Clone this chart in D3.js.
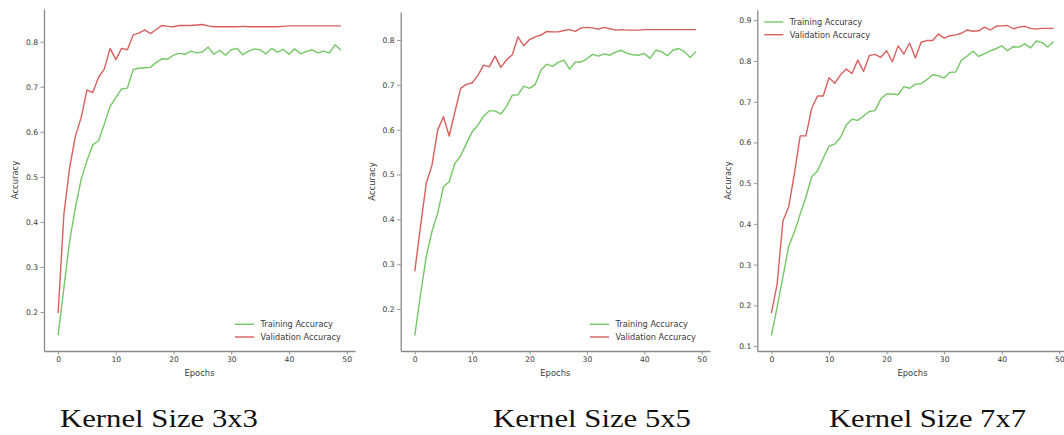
<!DOCTYPE html>
<html>
<head>
<meta charset="utf-8">
<script src="https://cdn.jsdelivr.net/npm/d3@7"></script>
<style>
  body { margin: 0; background: #fff; }
  svg { display: block; }
</style>
</head>
<body>
<svg id="chart" width="1064" height="435"></svg>
<script>
// accuracy per epoch
const train3 = [0.148,0.254,0.358,0.432,0.495,0.536,0.571,0.580,0.617,0.656,0.676,0.695,0.697,0.738,0.741,0.742,0.743,0.754,0.762,0.761,0.770,0.774,0.772,0.779,0.775,0.777,0.788,0.772,0.781,0.770,0.782,0.785,0.771,0.779,0.784,0.782,0.773,0.785,0.777,0.783,0.772,0.784,0.773,0.778,0.782,0.775,0.779,0.775,0.793,0.781];
const val3 = [0.198,0.417,0.521,0.591,0.632,0.693,0.687,0.721,0.739,0.785,0.760,0.785,0.782,0.815,0.819,0.826,0.818,0.827,0.836,0.834,0.833,0.836,0.836,0.836,0.837,0.838,0.835,0.833,0.833,0.833,0.833,0.833,0.834,0.833,0.833,0.833,0.833,0.833,0.833,0.834,0.835,0.835,0.835,0.835,0.835,0.835,0.835,0.835,0.835,0.835];
const train5 = [0.141,0.232,0.317,0.373,0.414,0.473,0.484,0.525,0.542,0.569,0.595,0.610,0.630,0.642,0.642,0.635,0.652,0.677,0.678,0.697,0.692,0.701,0.733,0.746,0.741,0.750,0.755,0.735,0.751,0.751,0.758,0.768,0.764,0.769,0.766,0.773,0.777,0.770,0.767,0.766,0.770,0.759,0.777,0.774,0.765,0.777,0.781,0.774,0.761,0.774];
const val5 = [0.284,0.384,0.480,0.521,0.599,0.629,0.586,0.640,0.692,0.701,0.704,0.721,0.744,0.740,0.764,0.739,0.756,0.767,0.807,0.787,0.801,0.807,0.811,0.819,0.818,0.818,0.821,0.823,0.819,0.827,0.828,0.827,0.824,0.828,0.825,0.822,0.823,0.822,0.822,0.822,0.823,0.823,0.823,0.823,0.823,0.823,0.823,0.823,0.823,0.823];
const train7 = [0.126,0.196,0.270,0.345,0.380,0.424,0.466,0.516,0.530,0.561,0.591,0.596,0.612,0.643,0.657,0.654,0.665,0.676,0.678,0.707,0.719,0.719,0.717,0.737,0.733,0.743,0.744,0.754,0.766,0.764,0.758,0.772,0.773,0.802,0.812,0.824,0.811,0.818,0.825,0.830,0.837,0.825,0.835,0.834,0.842,0.832,0.849,0.845,0.834,0.848];
const val7 = [0.181,0.253,0.407,0.442,0.524,0.616,0.616,0.684,0.714,0.714,0.759,0.745,0.766,0.780,0.769,0.802,0.774,0.813,0.816,0.809,0.825,0.798,0.837,0.817,0.844,0.807,0.846,0.850,0.850,0.866,0.856,0.862,0.864,0.868,0.876,0.873,0.874,0.883,0.876,0.885,0.886,0.887,0.879,0.883,0.885,0.880,0.878,0.880,0.880,0.880];

const xTicks = [0, 10, 20, 30, 40, 50];
const yTicks35 = [0.2, 0.3, 0.4, 0.5, 0.6, 0.7, 0.8];
const yTicks7 = [0.1, 0.2, 0.3, 0.4, 0.5, 0.6, 0.7, 0.8, 0.9];
const seriesNames = ['Training Accuracy', 'Validation Accuracy'];
const captions = ['Kernel Size 3x3', 'Kernel Size 5x5', 'Kernel Size 7x7'];

const colors = ['#74c765', '#d95f5f'];
const spineColor = '#8a8a8a';
const textColor = '#3a3a3a';

// where each subplot sits in the image
const panels = [
  { series: [train3, val3], yTicks: yTicks35, left: 44, right: 355, top: 9, bottom: 351, legend: 'lower right', labelX: 15, capX: 60, capW: 198 },
  { series: [train5, val5], yTicks: yTicks35, left: 400.7, right: 710, top: 12, bottom: 351, legend: 'lower right', labelX: 371.5, capX: 493, capW: 198 },
  { series: [train7, val7], yTicks: yTicks7, left: 757.3, right: 1067.7, top: 10, bottom: 351, legend: 'upper left', labelX: 728, capX: 829, capW: 197 }
];

const svg = d3.select('#chart');

panels.forEach((p, i) => {
  const n = p.series[0].length;
  // matplotlib style 5% margins
  const xPad = (n - 1) * 0.05;
  const all = p.series.flat();
  const lo = d3.min(all), hi = d3.max(all);
  const yPad = (hi - lo) * 0.05;

  const x = d3.scaleLinear().domain([-xPad, n - 1 + xPad]).range([p.left, p.right]);
  const y = d3.scaleLinear().domain([lo - yPad, hi + yPad]).range([p.bottom, p.top]);

  const g = svg.append('g');

  // y axis
  const ya = g.append('g')
    .attr('transform', `translate(${p.left},0)`)
    .call(d3.axisLeft(y).tickValues(p.yTicks).tickFormat(d3.format('.1f')).tickSize(3.5).tickSizeOuter(0).tickPadding(2.5));
  // x axis
  const xa = g.append('g')
    .attr('transform', `translate(0,${p.bottom})`)
    .call(d3.axisBottom(x).tickValues(xTicks).tickSize(3.5).tickSizeOuter(0).tickPadding(2.5));

  [ya, xa].forEach(a => {
    a.select('.domain').attr('stroke', spineColor).attr('stroke-width', 1.3);
    a.selectAll('.tick line').attr('stroke', spineColor).attr('stroke-width', 0.9);
    a.selectAll('.tick text')
      .attr('fill', textColor)
      .style('font-family', 'DejaVu Sans')
      .style('font-size', '7.6px');
  });

  // axis titles
  g.append('text')
    .attr('x', (p.left + p.right) / 2)
    .attr('y', p.bottom + 24.5)
    .attr('text-anchor', 'middle')
    .attr('fill', textColor)
    .style('font-family', 'DejaVu Sans')
    .style('font-size', '8.4px')
    .text('Epochs');

  g.append('text')
    .attr('transform', `translate(${p.labelX},${(p.top + p.bottom) / 2}) rotate(-90)`)
    .attr('text-anchor', 'middle')
    .attr('dominant-baseline', 'central')
    .attr('fill', textColor)
    .style('font-family', 'DejaVu Sans')
    .style('font-size', '8.4px')
    .text('Accuracy');

  // lines
  const line = d3.line().x((d, j) => x(j)).y(d => y(d));
  p.series.forEach((s, k) => {
    g.append('path')
      .datum(s)
      .attr('fill', 'none')
      .attr('stroke', colors[k])
      .attr('stroke-width', 1.4)
      .attr('stroke-linejoin', 'round')
      .attr('d', line);
  });

  // legend
  let lx, ly;
  if (p.legend === 'lower right') {
    lx = p.right - 120;
    ly = p.bottom - 26.7;
  } else {
    lx = p.left + 7;
    ly = p.top + 12;
  }
  seriesNames.forEach((name, k) => {
    const yy = ly + k * 12.7;
    g.append('line')
      .attr('x1', lx).attr('x2', lx + 19)
      .attr('y1', yy).attr('y2', yy)
      .attr('stroke', colors[k])
      .attr('stroke-width', 1.4);
    g.append('text')
      .attr('x', lx + 25.5)
      .attr('y', yy)
      .attr('dominant-baseline', 'central')
      .attr('fill', textColor)
      .style('font-family', 'DejaVu Sans')
      .style('font-size', '8.2px')
      .text(name);
  });

  // caption under each subplot
  svg.append('text')
    .attr('x', p.capX)
    .attr('y', 427)
    .attr('textLength', p.capW)
    .attr('lengthAdjust', 'spacingAndGlyphs')
    .attr('fill', '#111')
    .style('font-family', 'Liberation Serif')
    .style('font-size', '26px')
    .text(captions[i]);
});
</script>
</body>
</html>
